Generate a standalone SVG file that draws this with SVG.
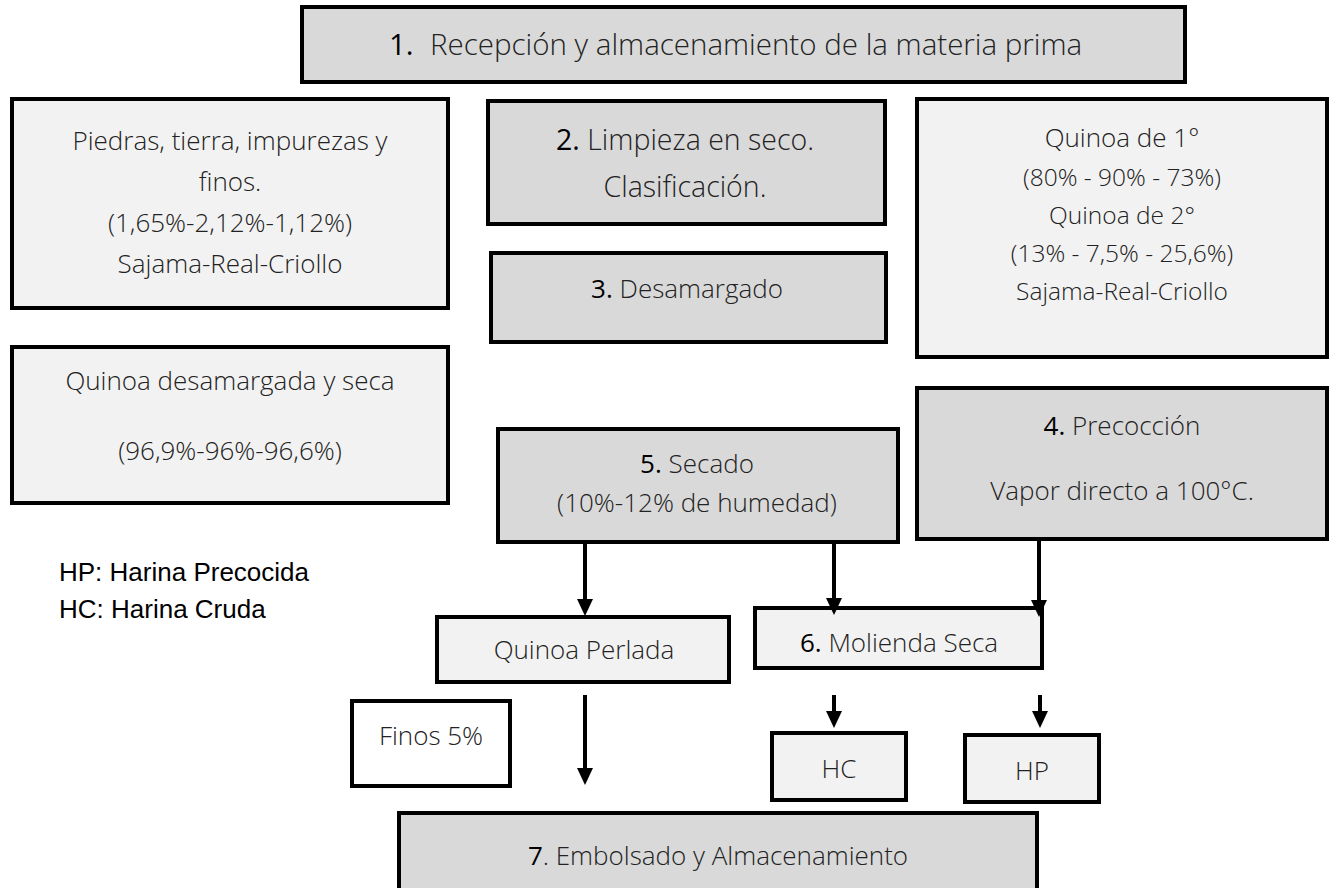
<svg xmlns="http://www.w3.org/2000/svg" width="1341" height="888" viewBox="0 0 1341 888">
<style>
.box{stroke:#000;stroke-width:4}
.g{fill:#d9d9d9}
.l{fill:#f2f2f2}
.w{fill:#fff}
text{font-family:"Open Sans","Noto Sans","Liberation Sans",sans-serif;font-weight:300;fill:#222;text-anchor:middle;font-size:26px}
.n{font-weight:400;fill:#000}
.big{font-size:28.5px}
.top{font-size:29.5px;text-anchor:start}
.q{font-size:24.5px}
.q1{font-size:26px}
.leg{font-family:"Liberation Sans",Arial,sans-serif;font-weight:400;fill:#000;text-anchor:start;font-size:26px}
.c{stroke:#000;stroke-width:4;fill:none}
.ah{fill:#000}
</style>
<rect width="1341" height="888" fill="#fff"/>
<g id="n1"><rect class="box g" x="302" y="7" width="883" height="75"/>
<text x="389" y="55" class="top n">1.</text>
<text x="430" y="55" class="top">Recepción y almacenamiento de la materia prima</text></g>
<g id="n-piedras"><rect class="box l" x="12" y="99" width="436" height="209"/>
<text x="230" y="150">Piedras, tierra, impurezas y</text>
<text x="230" y="191">finos.</text>
<text x="230" y="232">(1,65%-2,12%-1,12%)</text>
<text x="230" y="273">Sajama-Real-Criollo</text></g>
<g id="n2"><rect class="box g" x="488" y="101" width="397" height="123"/>
<text x="685" y="150" class="big"><tspan class="n">2.</tspan> Limpieza en seco.</text>
<text x="685" y="197" class="big">Clasificación.</text></g>
<g id="n3"><rect class="box g" x="491" y="253" width="395" height="89"/>
<text x="687" y="298"><tspan class="n">3.</tspan> Desamargado</text></g>
<g id="n-quinoa12"><rect class="box l" x="917" y="99" width="410" height="258"/>
<text x="1122" y="147" class="q1">Quinoa de 1°</text>
<text x="1122" y="186" class="q">(80% - 90% - 73%)</text>
<text x="1122" y="224" class="q">Quinoa de 2°</text>
<text x="1122" y="262" class="q">(13% - 7,5% - 25,6%)</text>
<text x="1122" y="300" class="q">Sajama-Real-Criollo</text></g>
<g id="n-desamargada"><rect class="box l" x="12" y="347" width="436" height="156"/>
<text x="230" y="390">Quinoa desamargada y seca</text>
<text x="230" y="460">(96,9%-96%-96,6%)</text></g>
<g id="n5"><rect class="box g" x="498" y="429" width="400" height="113"/>
<text x="697" y="473"><tspan class="n">5.</tspan> Secado</text>
<text x="697" y="512">(10%-12% de humedad)</text></g>
<g id="n4"><rect class="box g" x="917" y="388" width="410" height="151"/>
<text x="1122" y="435"><tspan class="n">4.</tspan> Precocción</text>
<text x="1122" y="500">Vapor directo a 100°C.</text></g>
<g id="legend">
<text class="leg" x="59" y="581">HP: Harina Precocida</text>
<text class="leg" x="59" y="618">HC: Harina Cruda</text></g>
<g id="n-perlada"><rect class="box l" x="437" y="617" width="292" height="65"/>
<text x="584" y="659">Quinoa Perlada</text></g>
<g id="n6"><rect class="box l" x="755" y="608" width="287" height="60"/>
<text x="899" y="652"><tspan class="n">6.</tspan> Molienda Seca</text></g>
<g id="n-finos"><rect class="box w" x="352" y="701" width="158" height="85"/>
<text x="431" y="745">Finos 5%</text></g>
<g id="n-hc"><rect class="box l" x="772" y="733" width="134" height="67"/>
<text x="839" y="778">HC</text></g>
<g id="n-hp"><rect class="box l" x="965" y="735" width="134" height="67"/>
<text x="1032" y="780">HP</text></g>
<g id="n7"><rect class="box g" x="399" y="813" width="638" height="90"/>
<text x="718" y="865"><tspan class="n">7</tspan>. Embolsado y Almacenamiento</text></g>
<g id="connectors">
<line class="c" x1="585" y1="542" x2="585" y2="601"/><polygon class="ah" points="577,599 593,599 585,616"/>
<line class="c" x1="834" y1="542" x2="834" y2="600"/><polygon class="ah" points="826,598 842,598 834,615"/>
<line class="c" x1="1039" y1="541" x2="1039" y2="602"/><polygon class="ah" points="1031,600 1047,600 1039,617"/>
<line class="c" x1="585" y1="695" x2="585" y2="770"/><polygon class="ah" points="577,768 593,768 585,785"/>
<line class="c" x1="834" y1="695" x2="834" y2="713"/><polygon class="ah" points="826,711 842,711 834,728"/>
<line class="c" x1="1040" y1="695" x2="1040" y2="713"/><polygon class="ah" points="1032,711 1048,711 1040,728"/>
</g>
</svg>
